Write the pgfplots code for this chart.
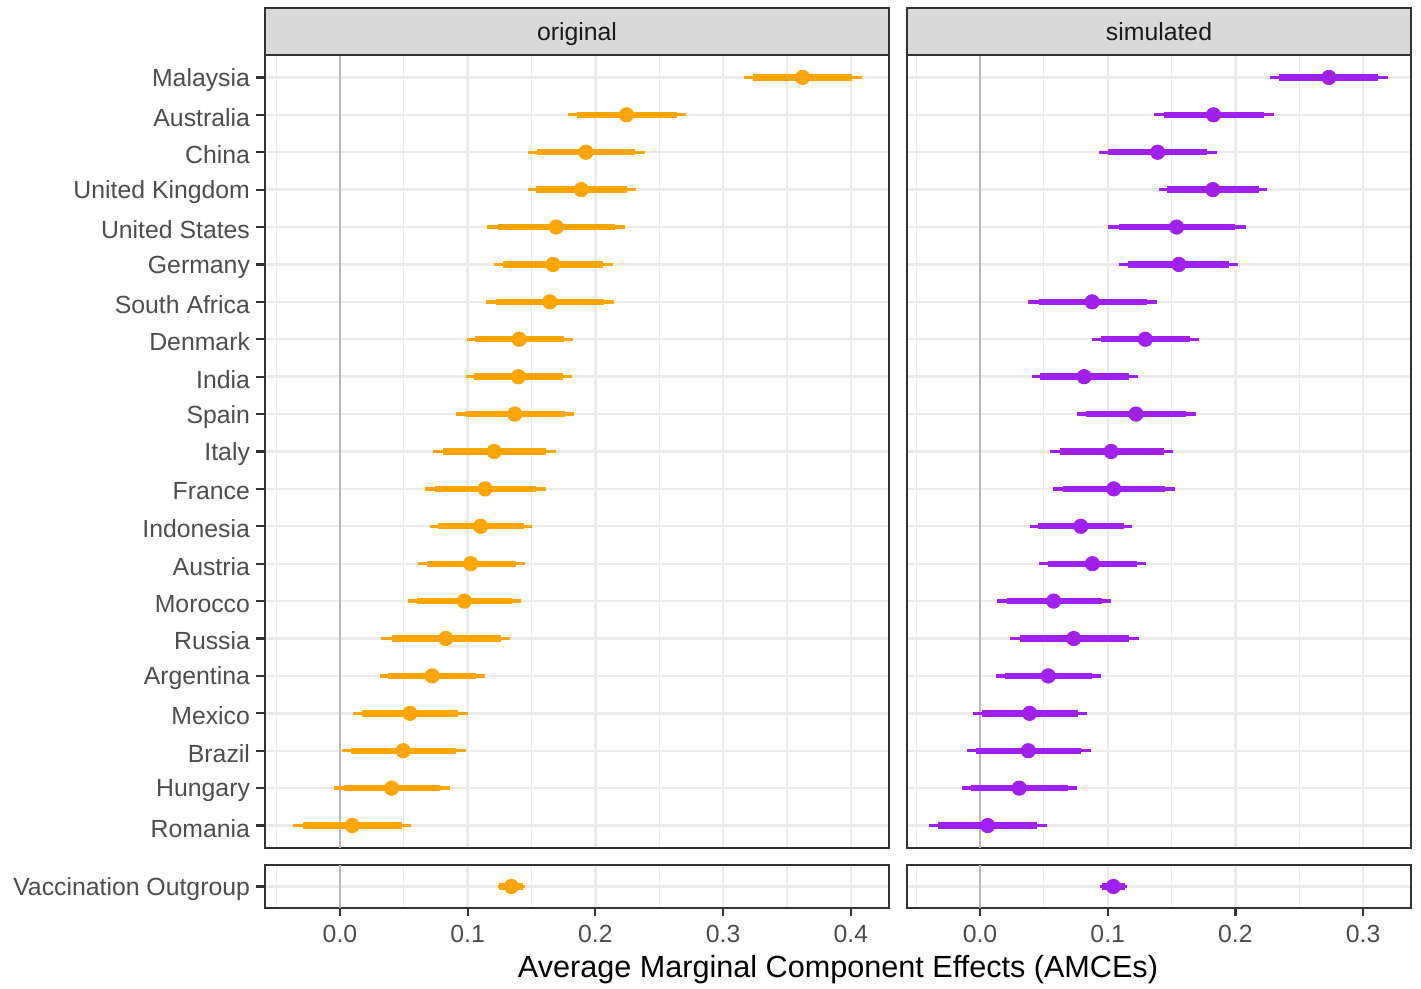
\documentclass[border=0pt]{standalone}
\usepackage{pgfplots}
\pgfplotsset{compat=1.18}
\usepackage{pgfplotstable}
\usepackage{fontspec}
\setmainfont{Liberation Sans}
\definecolor{gridc}{HTML}{EBEBEB}
\definecolor{bord}{HTML}{333333}
\definecolor{tickc}{HTML}{4D4D4D}
\definecolor{stripc}{HTML}{D9D9D9}
\definecolor{striptext}{HTML}{1A1A1A}
\definecolor{zeroc}{HTML}{B8B8B8}
\definecolor{origc}{HTML}{FFA500}
\definecolor{simc}{HTML}{A020F0}

% y: row position (1 = Romania ... 21 = Malaysia); est: estimate;
% lo95/hi95: thin interval; lo90/hi90: thick interval
\pgfplotstableread{
y est lo95 hi95 lo90 hi90
21 0.3622 0.3161 0.4085 0.3233 0.4008
20 0.2243 0.1783 0.2710 0.1854 0.2638
19 0.1926 0.1469 0.2386 0.1540 0.2312
18 0.1889 0.1469 0.2318 0.1534 0.2250
17 0.1693 0.1151 0.2234 0.1238 0.2150
16 0.1668 0.1204 0.2134 0.1279 0.2063
15 0.1643 0.1142 0.2147 0.1223 0.2069
14 0.1403 0.0993 0.1823 0.1058 0.1755
13 0.1397 0.0983 0.1814 0.1049 0.1749
12 0.1369 0.0905 0.1836 0.0983 0.1761
11 0.1207 0.0728 0.1693 0.0806 0.1615
10 0.1136 0.0663 0.1615 0.0741 0.1537
9 0.1101 0.0703 0.1503 0.0765 0.1444
8 0.1024 0.0610 0.1447 0.0678 0.1378
7 0.0974 0.0532 0.1419 0.0604 0.1347
6 0.0828 0.0320 0.1335 0.0404 0.1257
5 0.0722 0.0311 0.1136 0.0380 0.1067
4 0.0548 0.0103 0.0999 0.0174 0.0927
3 0.0495 0.0012 0.0983 0.0084 0.0905
2 0.0404 -0.0047 0.0859 0.0031 0.0787
1 0.0096 -0.0367 0.0557 -0.0289 0.0485
}\origtab

\pgfplotstableread{
y est lo95 hi95 lo90 hi90
21 0.2732 0.2271 0.3193 0.2344 0.3120
20 0.1828 0.1362 0.2302 0.1438 0.2227
19 0.1391 0.0932 0.1854 0.1005 0.1781
18 0.1823 0.1401 0.2250 0.1466 0.2182
17 0.1539 0.1003 0.2083 0.1086 0.1995
16 0.1557 0.1086 0.2023 0.1161 0.1953
15 0.0878 0.0378 0.1388 0.0461 0.1307
14 0.1294 0.0880 0.1714 0.0948 0.1641
13 0.0815 0.0404 0.1234 0.0471 0.1167
12 0.1221 0.0758 0.1688 0.0833 0.1615
11 0.1026 0.0549 0.1510 0.0625 0.1438
10 0.1047 0.0570 0.1523 0.0646 0.1448
9 0.0789 0.0388 0.1190 0.0456 0.1125
8 0.0880 0.0464 0.1302 0.0531 0.1232
7 0.0576 0.0135 0.1023 0.0208 0.0953
6 0.0734 0.0234 0.1247 0.0313 0.1167
5 0.0534 0.0125 0.0945 0.0193 0.0880
4 0.0388 -0.0055 0.0839 0.0016 0.0768
3 0.0378 -0.0104 0.0870 -0.0029 0.0789
2 0.0307 -0.0141 0.0763 -0.0070 0.0690
1 0.0060 -0.0396 0.0523 -0.0326 0.0448
}\simtab

\pgfplotstableread{
y est lo95 hi95 lo90 hi90
1 0.1342 0.1235 0.1448 0.1245 0.1433
}\origout

\pgfplotstableread{
y est lo95 hi95 lo90 hi90
1 0.1044 0.0940 0.1150 0.0955 0.1135
}\simout

\newcommand{\ticklabfont}{\fontsize{12.4}{14}\selectfont}

\pgfplotsset{
  panel/.style={
    scale only axis,
    anchor=south west,
    clip=false,
    axis line style={draw=bord, line width=1pt},
    tick align=outside,
    xtick pos=left, ytick pos=left,
    major tick length=4pt,
    minor tick length=0pt,
    tick style={draw=none},
    xmajorgrids, xminorgrids, ymajorgrids,
    major grid style={draw=gridc, line width=1.2pt},
    minor grid style={draw=gridc, line width=0.6pt},
    xticklabel style={font=\ticklabfont, text=tickc, yshift=-1pt},
    yticklabel style={font=\ticklabfont, text=tickc, yshift=-1.3pt},
  },
  leftx/.style={xmin=-0.0587, xmax=0.4299, xtick={0,0.1,0.2,0.3,0.4},
    minor xtick={-0.05,0.05,0.15,0.25,0.35}},
  rightx/.style={xmin=-0.0572, xmax=0.3375, xtick={0,0.1,0.2,0.3},
    minor xtick={-0.05,0.05,0.15,0.25}},
  thinbar/.style={draw=none, mark=none, forget plot,
    error bars/.cd, x dir=both, x explicit, error mark=none,
    error bar style={draw=#1, line width=1.65pt}},
  thickbar/.style={draw=none, mark=none, forget plot,
    error bars/.cd, x dir=both, x explicit, error mark=none,
    error bar style={draw=#1, line width=3.2pt}},
  dots/.style={color=#1, only marks, mark=*, mark size=3.6pt,
    mark options={draw=#1, fill=#1, line width=0.4pt}},
}

\begin{document}
\begin{tikzpicture}
\useasboundingbox (0,0) rectangle (710.5pt,494.5pt);

% ---------- original, main panel ----------
\begin{axis}[panel, leftx, at={(132.5pt,70.5pt)}, width=312pt, height=396.5pt,
  ymin=0.4, ymax=21.6, xticklabels={},
  ytick={1,...,21},
  yticklabels={Romania,Hungary,Brazil,Mexico,Argentina,Russia,Morocco,Austria,Indonesia,France,Italy,Spain,India,Denmark,South Africa,Germany,United States,United Kingdom,China,Australia,Malaysia}]
\addplot[zeroc, line width=1.4pt, forget plot] coordinates {(0,0.4) (0,21.6)};
\addplot[thinbar=origc] table[x=est, y=y,
  x error plus expr=\thisrow{hi95}-\thisrow{est},
  x error minus expr=\thisrow{est}-\thisrow{lo95}] {\origtab};
\addplot[thickbar=origc] table[x=est, y=y,
  x error plus expr=\thisrow{hi90}-\thisrow{est},
  x error minus expr=\thisrow{est}-\thisrow{lo90}] {\origtab};
\addplot[dots=origc] table[x=est, y=y] {\origtab};
\end{axis}

% ---------- simulated, main panel ----------
\begin{axis}[panel, rightx, at={(453.5pt,70.5pt)}, width=252pt, height=396.5pt,
  ymin=0.4, ymax=21.6, xticklabels={}, yticklabels={},
  ytick={1,...,21}]
\addplot[zeroc, line width=1.4pt, forget plot] coordinates {(0,0.4) (0,21.6)};
\addplot[thinbar=simc] table[x=est, y=y,
  x error plus expr=\thisrow{hi95}-\thisrow{est},
  x error minus expr=\thisrow{est}-\thisrow{lo95}] {\simtab};
\addplot[thickbar=simc] table[x=est, y=y,
  x error plus expr=\thisrow{hi90}-\thisrow{est},
  x error minus expr=\thisrow{est}-\thisrow{lo90}] {\simtab};
\addplot[dots=simc] table[x=est, y=y] {\simtab};
\end{axis}

% ---------- original, outgroup panel ----------
\begin{axis}[panel, leftx, at={(132.5pt,40.5pt)}, width=312pt, height=21.5pt,
  ymin=0.4, ymax=1.6, ytick={1}, yticklabels={Vaccination Outgroup},
  xticklabels={0.0,0.1,0.2,0.3,0.4}]
\addplot[zeroc, line width=1.4pt, forget plot] coordinates {(0,0.4) (0,1.6)};
\addplot[thinbar=origc] table[x=est, y=y,
  x error plus expr=\thisrow{hi95}-\thisrow{est},
  x error minus expr=\thisrow{est}-\thisrow{lo95}] {\origout};
\addplot[thickbar=origc] table[x=est, y=y,
  x error plus expr=\thisrow{hi90}-\thisrow{est},
  x error minus expr=\thisrow{est}-\thisrow{lo90}] {\origout};
\addplot[dots=origc] table[x=est, y=y] {\origout};
\end{axis}

% ---------- simulated, outgroup panel ----------
\begin{axis}[panel, rightx, at={(453.5pt,40.5pt)}, width=252pt, height=21.5pt,
  ymin=0.4, ymax=1.6, ytick={1}, yticklabels={},
  xticklabels={0.0,0.1,0.2,0.3}]
\addplot[zeroc, line width=1.4pt, forget plot] coordinates {(0,0.4) (0,1.6)};
\addplot[thinbar=simc] table[x=est, y=y,
  x error plus expr=\thisrow{hi95}-\thisrow{est},
  x error minus expr=\thisrow{est}-\thisrow{lo95}] {\simout};
\addplot[thickbar=simc] table[x=est, y=y,
  x error plus expr=\thisrow{hi90}-\thisrow{est},
  x error minus expr=\thisrow{est}-\thisrow{lo90}] {\simout};
\addplot[dots=simc] table[x=est, y=y] {\simout};
\end{axis}

% ---------- axis tick marks (ggplot style: left and bottom only) ----------
\foreach \yy in {81.72,100.42,119.12,137.83,156.53,175.23,193.94,212.64,231.34,250.05,268.75,287.45,306.16,324.86,343.56,362.27,380.97,399.67,418.38,437.08,455.78,51.25}
  \draw[draw=bord, line width=1.1pt] (128pt,\yy pt) -- (132.5pt,\yy pt);
\foreach \xx in {169.98,233.84,297.69,361.55,425.40,490.02,553.87,617.71,681.56}
  \draw[draw=bord, line width=1.1pt] (\xx pt,40.5pt) -- (\xx pt,36.5pt);

% ---------- facet strips ----------
\draw[draw=bord, fill=stripc, line width=1pt] (132.5pt,467pt) rectangle (444.5pt,490.5pt);
\node[anchor=base, font=\ticklabfont, text=striptext] at (288.5pt,474pt) {original};
\draw[draw=bord, fill=stripc, line width=1pt] (453.5pt,467pt) rectangle (705.5pt,490.5pt);
\node[anchor=base, font=\ticklabfont, text=striptext] at (579.5pt,474pt) {simulated};

% ---------- x axis title ----------
\node[anchor=base, font=\fontsize{15.3}{18}\selectfont] at (419pt,5.5pt)
  {Average Marginal Component Effects (AMCEs)};
\end{tikzpicture}
\end{document}
